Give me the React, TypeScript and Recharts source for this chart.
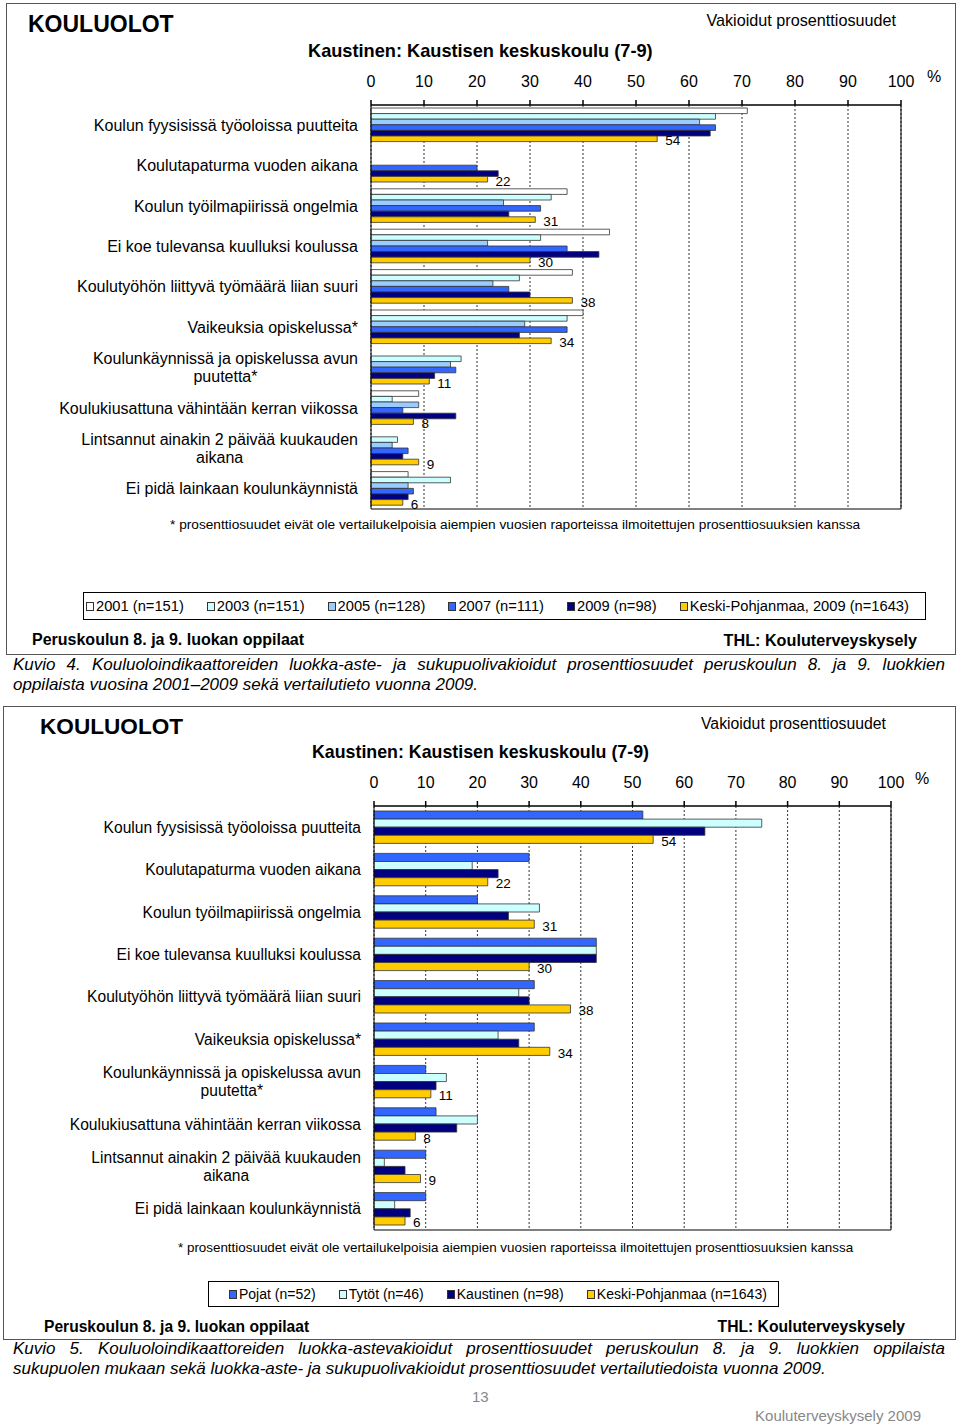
import React from 'react';
import {BarChart, Bar, XAxis, YAxis, CartesianGrid, ReferenceLine, LabelList} from 'recharts';

const FONT = "'Liberation Sans', Arial, Helvetica, sans-serif";

// kysymykset (sama molemmissa kuvioissa)
const categories = [
  'Koulun fyysisissä työoloissa puutteita',
  'Koulutapaturma vuoden aikana',
  'Koulun työilmapiirissä ongelmia',
  'Ei koe tulevansa kuulluksi koulussa',
  'Koulutyöhön liittyvä työmäärä liian suuri',
  'Vaikeuksia opiskelussa*',
  'Koulunkäynnissä ja opiskelussa avun\npuutetta*',
  'Koulukiusattuna vähintään kerran viikossa',
  'Lintsannut ainakin 2 päivää kuukauden\naikana',
  'Ei pidä lainkaan koulunkäynnistä',
];

const ticks = [0, 10, 20, 30, 40, 50, 60, 70, 80, 90, 100];

// Kuvio 4: vuodet
const y2001 = [71, null, 37, 45, 38, 40, null, 9, null, 7];
const y2003 = [65, null, 34, 32, 28, 37, 17, 4, 5, 15];
const y2005 = [62, null, 25, 22, 23, 29, 15, 9, 4, 7];
const y2007 = [65, 20, 32, 37, 26, 37, 16, 6, 7, 8];
const y2009 = [64, 24, 26, 43, 30, 28, 12, 16, 6, 7];
const kpTop = [54, 22, 31, 30, 38, 34, 11, 8, 9, 6];

const topKeys = ['y2001', 'y2003', 'y2005', 'y2007', 'y2009', 'kp'];
const topLegend = ['2001 (n=151)', '2003 (n=151)', '2005 (n=128)', '2007 (n=111)', '2009 (n=98)', 'Keski-Pohjanmaa, 2009 (n=1643)'];

// Kuvio 5: sukupuolen mukaan
const pojat = [52, 30, 20, 43, 31, 31, 10, 12, 10, 10];
const tytot = [75, 19, 32, 43, 28, 24, 14, 20, 2, 4];
const kaustinen = [64, 24, 26, 43, 30, 28, 12, 16, 6, 7];
const kpBottom = [54, 22, 31, 30, 38, 34, 11, 8, 9, 6];

const bottomKeys = ['pojat', 'tytot', 'kaustinen', 'kp'];
const bottomLegend = ['Pojat (n=52)', 'Tytöt (n=46)', 'Kaustinen (n=98)', 'Keski-Pohjanmaa (n=1643)'];

const topColors = ['#ffffff', '#ccffff', '#99ccff', '#3366ff', '#000080', '#ffcc00'];
const bottomColors = ['#3366ff', '#ccffff', '#000080', '#ffcc00'];

function buildRows(keys: string[], values: (number | null)[][]) {
  return categories.map((name, i) => {
    const row: any = {name};
    keys.forEach((k, j) => (row[k] = values[j][i]));
    return row;
  });
}

const topData = buildRows(topKeys, [y2001, y2003, y2005, y2007, y2009, kpTop]);
const bottomData = buildRows(bottomKeys, [pojat, tytot, kaustinen, kpBottom]);

let ctx: CanvasRenderingContext2D | null = null;
function measure(s: string, font: string) {
  if (!ctx) ctx = document.createElement('canvas').getContext('2d');
  if (!ctx) return s.length * 7;
  ctx.font = font;
  return ctx.measureText(s).width;
}

function makeCatTick(lineStep: number, size: number) {
  return (props: any) => {
    const {x, y, payload} = props;
    const lines = String(payload.value).split('\n');
    if (lines.length === 1) {
      return (
        <text x={x} y={y} dy={5.5} textAnchor="end" fontSize={size} fill="#000" fontFamily={FONT}>
          {lines[0]}
        </text>
      );
    }
    // monirivinen: rivit keskitetty lohkona
    const w = Math.max(...lines.map((l) => measure(l, `${size}px ${FONT}`)));
    const cx = x - w / 2;
    return (
      <g>
        {lines.map((l, i) => (
          <text key={i} x={cx} y={y + (i - (lines.length - 1) / 2) * lineStep} dy={5.5} textAnchor="middle" fontSize={size} fill="#000" fontFamily={FONT}>
            {l}
          </text>
        ))}
      </g>
    );
  };
}

const NumTick = (props: any) => (
  <text x={props.x} y={props.y} textAnchor="middle" fontSize={16} fill="#000" fontFamily={FONT}>
    {props.payload.value}
  </text>
);

const ValueLabel = (props: any) => {
  const {x, y, width, height, value} = props;
  return (
    <text x={x + width + 8} y={y + height / 2 + 6.5} fontSize={13.5} fill="#000" fontFamily={FONT}>
      {Math.round(value)}
    </text>
  );
};

function Chart(props: {
  data: any[];
  keys: string[];
  colors: string[];
  top: number;
  plotTop: number;
  plotLeft: number;
  plotWidth: number;
  plotHeight: number;
  barSize: number;
  lineStep: number;
  catSize: number;
}) {
  const axisH = props.plotTop - props.top;
  const height = axisH + props.plotHeight + 6;
  const last = props.keys[props.keys.length - 1];
  return (
    <div style={{position: 'absolute', left: 0, top: props.top}}>
      <BarChart
        width={960}
        height={height}
        data={props.data}
        layout="vertical"
        barGap={0}
        barSize={props.barSize}
        margin={{top: 0, right: 960 - props.plotLeft - props.plotWidth, bottom: 5, left: 0}}
      >
        <CartesianGrid horizontal={false} stroke="#333" strokeDasharray="2 2" />
        <XAxis
          type="number"
          orientation="top"
          domain={[0, 100]}
          ticks={ticks}
          interval={0}
          height={axisH}
          tickSize={5}
          tickMargin={13}
          tick={NumTick}
          stroke="#000"
          strokeWidth={1.5}
        />
        <XAxis xAxisId="b" type="number" orientation="bottom" domain={[0, 100]} height={1} tick={false} tickLine={false} stroke="#000" />
        <YAxis
          type="category"
          dataKey="name"
          width={props.plotLeft}
          interval={0}
          tickLine={false}
          tickSize={0}
          tickMargin={13}
          tick={makeCatTick(props.lineStep, props.catSize)}
          stroke="#000"
        />
        <ReferenceLine x={100} stroke="#000" />
        {props.keys.map((k, i) => (
          <Bar key={k} dataKey={k} fill={props.colors[i]} stroke="#333" strokeWidth={0.8} isAnimationActive={false}>
            {k === last && <LabelList dataKey={k} content={ValueLabel} />}
          </Bar>
        ))}
      </BarChart>
    </div>
  );
}

function Txt(p: {x: number; y: number; size?: number; bold?: boolean; italic?: boolean; right?: boolean; color?: string; children: React.ReactNode}) {
  const size = p.size || 15;
  const st: React.CSSProperties = {
    position: 'absolute',
    top: p.y - size * 0.52,
    fontSize: size,
    lineHeight: 1,
    fontWeight: p.bold ? 'bold' : 'normal',
    fontStyle: p.italic ? 'italic' : 'normal',
    color: p.color || '#000',
    whiteSpace: 'nowrap',
  };
  if (p.right) st.right = 960 - p.x;
  else st.left = p.x;
  return <div style={st}>{p.children}</div>;
}

function Legend(p: {labels: string[]; colors: string[]; left: number; top: number; width: number; height: number; gap: number; pad: number; size: number}) {
  return (
    <div
      style={{
        position: 'absolute',
        left: p.left,
        top: p.top,
        width: p.width,
        height: p.height,
        border: '1px solid #000',
        boxSizing: 'border-box',
        display: 'flex',
        alignItems: 'center',
        paddingLeft: p.pad,
        gap: p.gap,
        fontSize: p.size,
      }}
    >
      {p.labels.map((l, i) => (
        <div key={l} style={{display: 'flex', alignItems: 'center', whiteSpace: 'nowrap'}}>
          <span style={{display: 'inline-block', width: 6, height: 7, background: p.colors[i], border: '1px solid #333', marginRight: 2}} />
          <span>{l}</span>
        </div>
      ))}
    </div>
  );
}

function Caption(p: {y: number; first: string; second: string}) {
  const base: React.CSSProperties = {position: 'absolute', left: 13, width: 932, fontSize: 17, fontStyle: 'italic', lineHeight: 1};
  return (
    <>
      <div style={{...base, top: p.y - 9, textAlign: 'justify', textAlignLast: 'justify'}}>{p.first}</div>
      <div style={{...base, top: p.y + 11}}>{p.second}</div>
    </>
  );
}

const footnote = '* prosenttiosuudet eivät ole vertailukelpoisia aiempien vuosien raporteissa ilmoitettujen prosenttiosuuksien kanssa';

export default function App() {
  return (
    <div style={{position: 'relative', width: 960, height: 1427, fontFamily: FONT, background: '#fff', overflow: 'hidden'}}>
      <style>{'body{margin:0}'}</style>

      {/* Kuvio 4 */}
      <div style={{position: 'absolute', left: 6, top: 3, width: 950, height: 652, border: '1.5px solid #555', boxSizing: 'border-box'}} />
      <Txt x={28} y={25} size={23} bold>KOULUOLOT</Txt>
      <Txt x={896} y={20} size={16.2} right>Vakioidut prosenttiosuudet</Txt>
      <Txt x={308} y={51} size={18.2} bold>Kaustinen: Kaustisen keskuskoulu (7-9)</Txt>
      <Txt x={927} y={77} size={16}>%</Txt>
      <Chart data={topData} keys={topKeys} colors={topColors} top={55} plotTop={105} plotLeft={371} plotWidth={530} plotHeight={404} barSize={5.6} lineStep={18} catSize={16} />
      <Txt x={170} y={525} size={13.7}>{footnote}</Txt>
      <Legend labels={topLegend} colors={topColors} left={83} top={592} width={843} height={28} gap={23} pad={2} size={14.7} />
      <Txt x={32} y={640} size={16} bold>Peruskoulun 8. ja 9. luokan oppilaat</Txt>
      <Txt x={917} y={640} size={16.2} bold right>THL: Kouluterveyskysely</Txt>
      <Caption
        y={665}
        first="Kuvio 4. Kouluoloindikaattoreiden luokka-aste- ja sukupuolivakioidut prosenttiosuudet peruskoulun 8. ja 9. luokkien"
        second="oppilaista vuosina 2001–2009 sekä vertailutieto vuonna 2009."
      />

      {/* Kuvio 5 */}
      <div style={{position: 'absolute', left: 3, top: 706, width: 953, height: 634, border: '1.5px solid #555', boxSizing: 'border-box'}} />
      <Txt x={40} y={728} size={22.6} bold>KOULUOLOT</Txt>
      <Txt x={886} y={724} size={15.8} right>Vakioidut prosenttiosuudet</Txt>
      <Txt x={312} y={753} size={17.8} bold>Kaustinen: Kaustisen keskuskoulu (7-9)</Txt>
      <Txt x={915} y={779} size={16}>%</Txt>
      <Chart data={bottomData} keys={bottomKeys} colors={bottomColors} top={756} plotTop={806} plotLeft={374} plotWidth={517} plotHeight={424} barSize={8.1} lineStep={17.5} catSize={15.6} />
      <Txt x={178} y={1248} size={13.4}>{footnote}</Txt>
      <Legend labels={bottomLegend} colors={bottomColors} left={208} top={1281} width={571} height={26} gap={23} pad={20} size={14} />
      <Txt x={44} y={1327} size={15.6} bold>Peruskoulun 8. ja 9. luokan oppilaat</Txt>
      <Txt x={905} y={1327} size={15.7} bold right>THL: Kouluterveyskysely</Txt>
      <Caption
        y={1349}
        first="Kuvio 5. Kouluoloindikaattoreiden luokka-astevakioidut prosenttiosuudet peruskoulun 8. ja 9. luokkien oppilaista"
        second="sukupuolen mukaan sekä luokka-aste- ja sukupuolivakioidut prosenttiosuudet vertailutiedoista vuonna 2009."
      />
      <Txt x={472} y={1397} color="#888">13</Txt>
      <Txt x={921} y={1416} right color="#888">Kouluterveyskysely 2009</Txt>
    </div>
  );
}
